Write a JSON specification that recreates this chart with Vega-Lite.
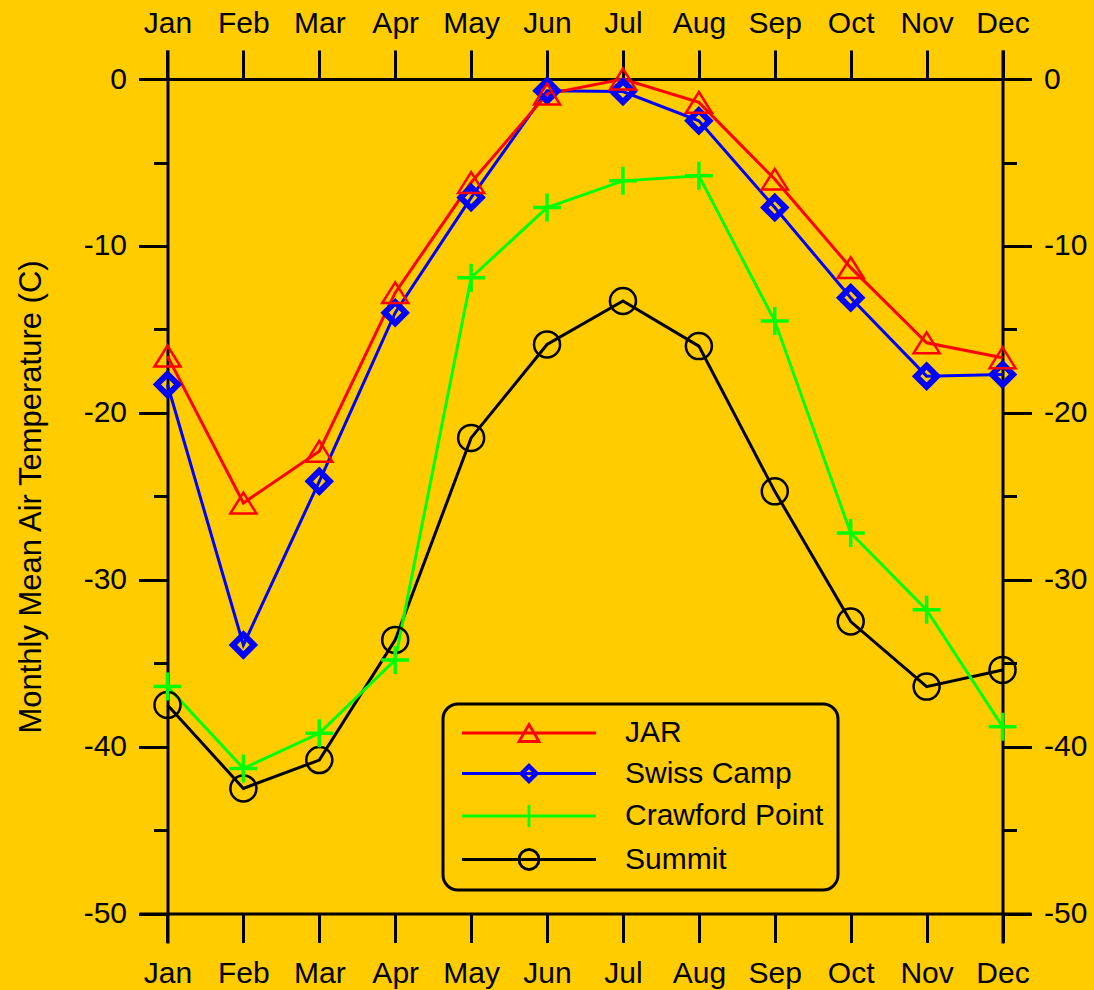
{
  "$schema": "https://vega.github.io/schema/vega-lite/v6.json",
  "width": 892,
  "height": 893,
  "autosize": {"type": "none"},
  "padding": {"left": 139, "top": 50, "right": 63, "bottom": 47},
  "background": "#FFCC00",
  "config": {
    "view": {"stroke": null},
    "font": "Liberation Sans",
    "axis": {
      "domainColor": "#000000",
      "domainWidth": 3,
      "tickColor": "#000000",
      "tickWidth": 3,
      "labelFont": "Liberation Sans",
      "labelFontSize": 30,
      "labelColor": "#000000",
      "grid": false,
      "labelBound": false,
      "labelFlush": false,
      "labelOverlap": false
    },
    "legend": {
      "title": null,
      "orient": "none",
      "legendX": 304,
      "legendY": 654,
      "labelFont": "Liberation Sans",
      "labelFontSize": 30,
      "labelColor": "#000000",
      "labelLimit": 400,
      "symbolSize": 400,
      "symbolStrokeWidth": 2.8,
      "symbolOffset": 57,
      "labelOffset": 81,
      "rowPadding": 10.5,
      "padding": 14,
      "strokeColor": "#000000",
      "strokeWidth": 3,
      "cornerRadius": 15
    }
  },
  "data": {
    "values": [
      {"month": 1, "station": "Summit", "temp": -37.5},
      {"month": 2, "station": "Summit", "temp": -42.5},
      {"month": 3, "station": "Summit", "temp": -40.8},
      {"month": 4, "station": "Summit", "temp": -33.6},
      {"month": 5, "station": "Summit", "temp": -21.5},
      {"month": 6, "station": "Summit", "temp": -15.9},
      {"month": 7, "station": "Summit", "temp": -13.3},
      {"month": 8, "station": "Summit", "temp": -16.0},
      {"month": 9, "station": "Summit", "temp": -24.7},
      {"month": 10, "station": "Summit", "temp": -32.5},
      {"month": 11, "station": "Summit", "temp": -36.4},
      {"month": 12, "station": "Summit", "temp": -35.4},
      {"month": 1, "station": "Crawford Point", "temp": -36.4},
      {"month": 2, "station": "Crawford Point", "temp": -41.3},
      {"month": 3, "station": "Crawford Point", "temp": -39.2},
      {"month": 4, "station": "Crawford Point", "temp": -34.8},
      {"month": 5, "station": "Crawford Point", "temp": -11.9},
      {"month": 6, "station": "Crawford Point", "temp": -7.7},
      {"month": 7, "station": "Crawford Point", "temp": -6.1},
      {"month": 8, "station": "Crawford Point", "temp": -5.8},
      {"month": 9, "station": "Crawford Point", "temp": -14.5},
      {"month": 10, "station": "Crawford Point", "temp": -27.2},
      {"month": 11, "station": "Crawford Point", "temp": -31.8},
      {"month": 12, "station": "Crawford Point", "temp": -38.8},
      {"month": 1, "station": "Swiss Camp", "temp": -18.3},
      {"month": 2, "station": "Swiss Camp", "temp": -33.9},
      {"month": 3, "station": "Swiss Camp", "temp": -24.1},
      {"month": 4, "station": "Swiss Camp", "temp": -14.0},
      {"month": 5, "station": "Swiss Camp", "temp": -7.1},
      {"month": 6, "station": "Swiss Camp", "temp": -0.7},
      {"month": 7, "station": "Swiss Camp", "temp": -0.75},
      {"month": 8, "station": "Swiss Camp", "temp": -2.5},
      {"month": 9, "station": "Swiss Camp", "temp": -7.7},
      {"month": 10, "station": "Swiss Camp", "temp": -13.1},
      {"month": 11, "station": "Swiss Camp", "temp": -17.8},
      {"month": 12, "station": "Swiss Camp", "temp": -17.7},
      {"month": 1, "station": "JAR", "temp": -16.6},
      {"month": 2, "station": "JAR", "temp": -25.4},
      {"month": 3, "station": "JAR", "temp": -22.3},
      {"month": 4, "station": "JAR", "temp": -12.8},
      {"month": 5, "station": "JAR", "temp": -6.2},
      {"month": 6, "station": "JAR", "temp": -0.9},
      {"month": 7, "station": "JAR", "temp": 0.0},
      {"month": 8, "station": "JAR", "temp": -1.4},
      {"month": 9, "station": "JAR", "temp": -6.0},
      {"month": 10, "station": "JAR", "temp": -11.3},
      {"month": 11, "station": "JAR", "temp": -15.8},
      {"month": 12, "station": "JAR", "temp": -16.7}
    ]
  },
  "layer": [
    {
      "mark": {"type": "line", "strokeWidth": 3},
      "encoding": {
        "x": {
          "field": "month", "type": "quantitative",
          "scale": {"domain": [0.625, 12.375], "nice": false, "zero": false},
          "axis": {
            "orient": "bottom", "offset": -29.5, "title": null,
            "values": [1, 2, 3, 4, 5, 6, 7, 8, 9, 10, 11, 12],
            "labelExpr": "['Jan','Feb','Mar','Apr','May','Jun','Jul','Aug','Sep','Oct','Nov','Dec'][datum.value - 1]",
            "tickSize": 29, "labelPadding": 16
          }
        },
        "y": {
          "field": "temp", "type": "quantitative",
          "scale": {"domain": [-51.76, 1.74], "nice": false, "zero": false},
          "axis": {
            "orient": "left", "offset": -28.5,
            "values": [-50, -45, -40, -35, -30, -25, -20, -15, -10, -5, 0],
            "tickSize": {"condition": {"test": "datum.value % 10 === 0", "value": 29}, "value": 14},
            "labelExpr": "datum.value % 10 === 0 ? '' + datum.value : ''",
            "labelPadding": 12,
            "title": "Monthly Mean Air Temperature (C)",
            "titleFont": "Liberation Sans", "titleFontSize": 31, "titleFontWeight": "normal",
            "titleColor": "#000000", "titlePadding": 36
          }
        },
        "color": {
          "field": "station", "type": "nominal",
          "scale": {"domain": ["JAR", "Swiss Camp", "Crawford Point", "Summit"], "range": ["#FF0000", "#0000FF", "#00FF00", "#000000"]}
        }
      }
    },
    {
      "transform": [{"filter": {"field": "station", "equal": "Summit"}}],
      "mark": {"type": "point", "shape": "circle", "filled": false, "color": "#000000", "strokeWidth": 2.5, "size": 676, "opacity": 1},
      "encoding": {
        "x": {
          "field": "month", "type": "quantitative",
          "scale": {"domain": [0.625, 12.375], "nice": false, "zero": false},
          "axis": {
            "orient": "top", "offset": -29, "title": null,
            "values": [1, 2, 3, 4, 5, 6, 7, 8, 9, 10, 11, 12],
            "labelExpr": "['Jan','Feb','Mar','Apr','May','Jun','Jul','Aug','Sep','Oct','Nov','Dec'][datum.value - 1]",
            "tickSize": 29, "labelPadding": 12
          }
        },
        "y": {
          "field": "temp", "type": "quantitative",
          "scale": {"domain": [-51.76, 1.74], "nice": false, "zero": false},
          "axis": {
            "orient": "right", "offset": -28.5, "title": null,
            "values": [-50, -45, -40, -35, -30, -25, -20, -15, -10, -5, 0],
            "tickSize": {"condition": {"test": "datum.value % 10 === 0", "value": 29}, "value": 14},
            "labelExpr": "datum.value % 10 === 0 ? '' + datum.value : ''",
            "labelPadding": 12
          }
        }
      }
    },
    {
      "transform": [{"filter": {"field": "station", "equal": "Crawford Point"}}],
      "mark": {"type": "point", "shape": "M-1,0L1,0M0,-1L0,1", "filled": false, "color": "#00FF00", "strokeWidth": 3.5, "size": 784, "opacity": 1},
      "encoding": {
        "x": {"field": "month", "type": "quantitative", "axis": null},
        "y": {"field": "temp", "type": "quantitative", "axis": null}
      }
    },
    {
      "transform": [{"filter": {"field": "station", "equal": "Swiss Camp"}}],
      "mark": {"type": "point", "shape": "M0,-1L1,0L0,1L-1,0Z", "filled": false, "color": "#0000FF", "strokeWidth": 6, "size": 441, "opacity": 1},
      "encoding": {
        "x": {"field": "month", "type": "quantitative", "axis": null},
        "y": {"field": "temp", "type": "quantitative", "axis": null}
      }
    },
    {
      "transform": [{"filter": {"field": "station", "equal": "JAR"}}],
      "mark": {"type": "point", "shape": "M0,-0.8L1,0.8L-1,0.8Z", "filled": false, "color": "#FF0000", "strokeWidth": 2.5, "size": 676, "opacity": 1},
      "encoding": {
        "x": {"field": "month", "type": "quantitative", "axis": null},
        "y": {"field": "temp", "type": "quantitative", "axis": null}
      }
    },
    {
      "transform": [{"filter": "datum.month > 100"}],
      "mark": {"type": "point", "filled": false, "strokeWidth": 2.8, "size": 400, "opacity": 1},
      "encoding": {
        "x": {"field": "month", "type": "quantitative", "axis": null},
        "y": {"field": "temp", "type": "quantitative", "axis": null},
        "color": {
          "field": "station", "type": "nominal",
          "scale": {"domain": ["JAR", "Swiss Camp", "Crawford Point", "Summit"], "range": ["#FF0000", "#0000FF", "#00FF00", "#000000"]}
        },
        "shape": {
          "field": "station", "type": "nominal",
          "scale": {
            "domain": ["JAR", "Swiss Camp", "Crawford Point", "Summit"],
            "range": [
              "M-6.7,0L6.7,0M0,-0.85L1,0.85L-1,0.85Z",
              "M-6.7,0L6.7,0M0,-0.85L0.85,0L0,0.85L-0.85,0ZM0,-0.62L0.62,0L0,0.62L-0.62,0Z",
              "M-6.7,0L6.7,0M0,-1.1L0,1.1",
              "M-6.7,0L6.7,0M1,0L0.924,0.383L0.707,0.707L0.383,0.924L0,1L-0.383,0.924L-0.707,0.707L-0.924,0.383L-1,0L-0.924,-0.383L-0.707,-0.707L-0.383,-0.924L0,-1L0.383,-0.924L0.707,-0.707L0.924,-0.383Z"
            ]
          }
        }
      }
    }
  ],
  "resolve": {"axis": {"x": "independent", "y": "independent"}}
}
